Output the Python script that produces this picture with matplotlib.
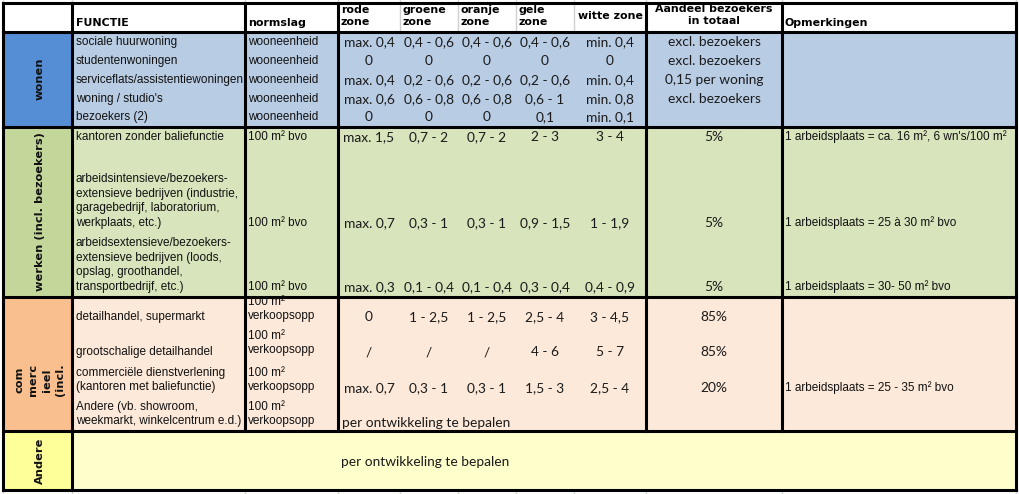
import matplotlib.pyplot as plt
from matplotlib.patches import Rectangle

# ---- data ----
zones = ["rode\nzone", "groene\nzone", "oranje\nzone", "gele\nzone", "witte zone"]
aandeel_header = "Aandeel bezoekers\nin totaal"

groups = ["wonen", "werken (incl. bezoekers)", "com\nmerc\nieel\n(incl.", "Andere"]

wonen_functie = ["sociale huurwoning", "studentenwoningen", "serviceflats/assistentiewoningen",
                 "woning / studio's", "bezoekers (2)"]
wonen_norm = ["wooneenheid"] * 5
wonen_vals = [
    ["max. 0,4", "0,4 - 0,6", "0,4 - 0,6", "0,4 - 0,6", "min. 0,4"],
    ["0", "0", "0", "0", "0"],
    ["max. 0,4", "0,2 - 0,6", "0,2 - 0,6", "0,2 - 0,6", "min. 0,4"],
    ["max. 0,6", "0,6 - 0,8", "0,6 - 0,8", "0,6 - 1", "min. 0,8"],
    ["0", "0", "0", "0,1", "min. 0,1"],
]
wonen_aandeel = ["excl. bezoekers", "excl. bezoekers", "0,15 per woning", "excl. bezoekers", ""]

werken_functie = ["kantoren zonder baliefunctie",
                  "arbeidsintensieve/bezoekers-\nextensieve bedrijven (industrie,\ngaragebedrijf, laboratorium,\nwerkplaats, etc.)",
                  "arbeidsextensieve/bezoekers-\nextensieve bedrijven (loods,\nopslag, groothandel,\ntransportbedrijf, etc.)"]
werken_norm = ["100 m² bvo"] * 3
werken_vals = [
    ["max. 1,5", "0,7 - 2", "0,7 - 2", "2 - 3", "3 - 4"],
    ["max. 0,7", "0,3 - 1", "0,3 - 1", "0,9 - 1,5", "1 - 1,9"],
    ["max. 0,3", "0,1 - 0,4", "0,1 - 0,4", "0,3 - 0,4", "0,4 - 0,9"],
]
werken_aandeel = ["5%", "5%", "5%"]
werken_opm = ["1 arbeidsplaats = ca. 16 m², 6 wn's/100 m²",
              "1 arbeidsplaats = 25 à 30 m² bvo",
              "1 arbeidsplaats = 30- 50 m² bvo"]

comm_functie = ["detailhandel, supermarkt", "grootschalige detailhandel",
                "commerciële dienstverlening\n(kantoren met baliefunctie)",
                "Andere (vb. showroom,\nweekmarkt, winkelcentrum e.d.)"]
comm_norm = ["100 m²\nverkoopsopp"] * 4
comm_vals = [
    ["0", "1 - 2,5", "1 - 2,5", "2,5 - 4", "3 - 4,5"],
    ["/", "/", "/", "4 - 6", "5 - 7"],
    ["max. 0,7", "0,3 - 1", "0,3 - 1", "1,5 - 3", "2,5 - 4"],
]
comm_aandeel = ["85%", "85%", "20%"]
comm_opm = ["", "", "1 arbeidsplaats = 25 - 35 m² bvo"]
te_bepalen = "per ontwikkeling te bepalen"

# ---- layout ----
W, H = 1019, 494
xcol = [3, 72, 245, 338, 400, 458, 516, 574, 646, 782, 1016]
zone_cx = [369, 429, 487, 545, 610]
yrow = [3, 32, 127, 297, 431, 490]

lab_col = ["#558ED5", "#C4D79B", "#FABF8F", "#FFFF99"]
body_col = ["#B8CCE4", "#D8E4BC", "#FDE9D9", "#FFFFCC"]

SMALL = dict(family="Liberation Sans", fontsize=8.5, color="#111111")
VAL = dict(family="Lato", fontsize=9.9, color="#1a1a1a")
HEAD = dict(family="DejaVu Sans", fontsize=7.9, fontweight="bold", color="black")

fig = plt.figure(figsize=(W / 100, H / 100), dpi=100)
ax = fig.add_axes([0, 0, 1, 1])
ax.set_xlim(0, W)
ax.set_ylim(H, 0)
ax.axis("off")

# faint spreadsheet gridlines outside the table
for x in xcol:
    ax.plot([x, x], [0, yrow[0]], color="#d9d9d9", lw=1)
    ax.plot([x, x], [yrow[-1], H], color="#d9d9d9", lw=1)
ax.plot([xcol[-1] + 2, W], [yrow[-1], yrow[-1]], color="#d9d9d9", lw=1)

# backgrounds
for i in range(4):
    y0, y1 = yrow[i + 1], yrow[i + 2]
    ax.add_patch(Rectangle((xcol[0], y0), xcol[1] - xcol[0], y1 - y0, color=lab_col[i], lw=0))
    ax.add_patch(Rectangle((xcol[1], y0), xcol[-1] - xcol[1], y1 - y0, color=body_col[i], lw=0))

# header gridlines between zone columns
for x in xcol[4:8]:
    ax.plot([x, x], [yrow[0], yrow[1]], color="#d0d0d0", lw=1)

# header text
ax.text(76, 23, "FUNCTIE", va="center", ha="left", **HEAD)
ax.text(248, 23, "normslag", va="center", ha="left", **HEAD)
for i, z in enumerate(zones):
    x = xcol[3 + i] + 3 if i < 4 else 578
    ax.text(x, 16, z, va="center", ha="left", linespacing=1.3, **HEAD)
ax.text(714, 15, aandeel_header, va="center", ha="center", linespacing=1.25, **HEAD)
ax.text(785, 23, "Opmerkingen", va="center", ha="left", **HEAD)

# group labels
lab_y = [79, 212, 380, 461]
for i, g in enumerate(groups):
    t = ax.text(40, lab_y[i], g, rotation=90, va="center", ha="center", multialignment="center",
                linespacing=1.45 if i == 2 else 1.2, family="DejaVu Sans", fontsize=8.2,
                fontweight="bold", color="#111111")
    clip = Rectangle((xcol[0], yrow[i + 1]), xcol[1] - xcol[0], yrow[i + 2] - yrow[i + 1],
                     transform=ax.transData, fill=False, lw=0)
    t.set_clip_path(clip)


def put_row(y, functie, norm, vals, aandeel, opm="", fy=None, ny=None):
    ax.text(76, y if fy is None else fy, functie, va="center", ha="left", linespacing=1.3, **SMALL)
    ax.text(248, y if ny is None else ny, norm, va="center", ha="left", linespacing=1.3, **SMALL)
    for cx, v in zip(zone_cx, vals):
        ax.text(cx, y, v, va="center", ha="center", **VAL)
    ax.text(714, y, aandeel, va="center", ha="center", **VAL)
    if opm:
        ax.text(785, y, opm, va="center", ha="left", **SMALL)


# wonen
for k, y in enumerate([42, 61, 80, 99, 117]):
    put_row(y, wonen_functie[k], wonen_norm[k], wonen_vals[k], wonen_aandeel[k])

# werken
put_row(137, werken_functie[0], werken_norm[0], werken_vals[0], werken_aandeel[0], werken_opm[0])
put_row(223, werken_functie[1], werken_norm[1], werken_vals[1], werken_aandeel[1], werken_opm[1], fy=201)
put_row(287, werken_functie[2], werken_norm[2], werken_vals[2], werken_aandeel[2], werken_opm[2], fy=265)

# commercieel
put_row(317, comm_functie[0], comm_norm[0], comm_vals[0], comm_aandeel[0], comm_opm[0], ny=309)
put_row(352, comm_functie[1], comm_norm[1], comm_vals[1], comm_aandeel[1], comm_opm[1], ny=343)
put_row(388, comm_functie[2], comm_norm[2], comm_vals[2], comm_aandeel[2], comm_opm[2], fy=380, ny=380)
ax.text(76, 414, comm_functie[3], va="center", ha="left", linespacing=1.3, **SMALL)
ax.text(248, 414, comm_norm[3], va="center", ha="left", linespacing=1.3, **SMALL)
ax.text(342, 423, te_bepalen, va="center", ha="left", **VAL)

# andere
ax.text(341, 462, te_bepalen, va="center", ha="left", **VAL)

# thick borders
LW = 2.2
for y in yrow:
    ax.plot([xcol[0], xcol[-1]], [y, y], color="black", lw=LW, solid_capstyle="projecting")
for x in [xcol[0], xcol[1], xcol[-1]]:
    ax.plot([x, x], [yrow[0], yrow[-1]], color="black", lw=LW, solid_capstyle="projecting")
for x in [xcol[2], xcol[3], xcol[8], xcol[9]]:
    ax.plot([x, x], [yrow[0], yrow[4]], color="black", lw=LW, solid_capstyle="projecting")

fig.savefig("out.png", dpi=100)
